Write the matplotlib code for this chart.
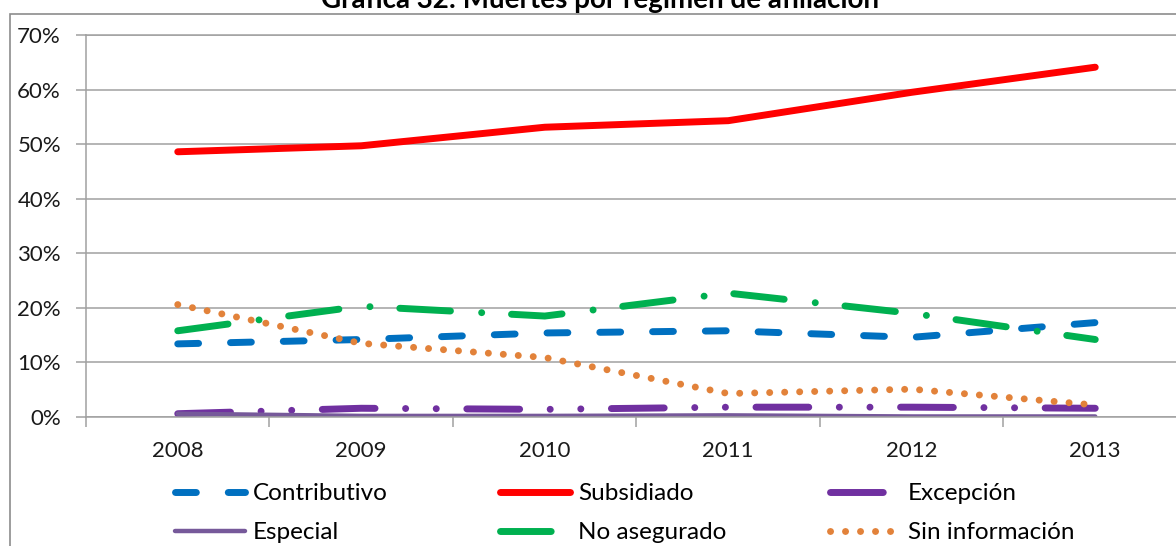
import matplotlib
matplotlib.use('Agg')
import matplotlib.pyplot as plt
from matplotlib.patches import Rectangle

years = ['2008', '2009', '2010', '2011', '2012', '2013']
contributivo = [13.4, 14.2, 15.4, 15.8, 14.6, 17.3]
subsidiado = [48.6, 49.7, 53.1, 54.3, 59.5, 64.1]
excepcion = [0.6, 1.6, 1.4, 1.8, 1.8, 1.6]
especial = [0.6, 0.2, 0.2, 0.3, 0.1, 0.1]
no_asegurado = [15.8, 20.3, 18.5, 22.7, 19.0, 14.2]
sin_informacion = [20.6, 13.5, 10.9, 4.3, 5.1, 2.2]

plt.rcParams['font.family'] = ['Lato', 'DejaVu Sans']
W, H = 1176, 546
fig = plt.figure(figsize=(W / 100, H / 100), dpi=100)
ax = fig.add_axes([86 / W, 129 / H, 1101 / W, 382 / H])

x = list(range(len(years)))
cap = dict(solid_capstyle='round', dash_capstyle='round')
l_con, = ax.plot(x, contributivo, color='#0070C0', lw=5, dashes=(3, 4.6), label='Contributivo', **cap)
l_sub, = ax.plot(x, subsidiado, color='#FF0000', lw=5, label='Subsidiado', **cap)
l_exc, = ax.plot(x, excepcion, color='#7030A0', lw=5, dashes=(7.6, 4.4, 0.01, 4.4, 0.01, 4.4),
                 label='Excepción', **cap)
l_esp, = ax.plot(x, especial, color='#76599A', lw=3.2, label='Especial', **cap)
l_noa, = ax.plot(x, no_asegurado, color='#00B050', lw=5, dashes=(7.3, 4.5, 0.01, 4.3),
                 label='No asegurado', **cap)
l_sin, = ax.plot(x, sin_informacion, color='#E2823A', lw=5, dashes=(0.01, 2.15),
                 label='Sin información', **cap)

ax.set_xlim(-0.5, 5.5)
ax.set_ylim(0, 70)
ax.set_yticks(range(0, 71, 10))
ax.set_yticklabels([f'{v}%' for v in range(0, 71, 10)])
ax.set_xticks([i - 0.5 for i in range(len(years) + 1)])
ax.set_xticklabels([])
ax.set_xticks(x, minor=True)
ax.set_xticklabels(years, minor=True)
ax.tick_params(axis='x', which='major', length=7, width=1.1, color='#A0A0A0', direction='out')
ax.tick_params(axis='x', which='minor', length=0, pad=17, labelsize=16, labelcolor='#1a1a1a')
ax.tick_params(axis='y', length=7, width=1.1, color='#A0A0A0', pad=11, labelsize=16,
               labelcolor='#1a1a1a')
ax.grid(axis='y', color='#A0A0A0', lw=1.1)
ax.set_axisbelow(True)
for side in ['left', 'bottom', 'top']:
    ax.spines[side].set_color('#A0A0A0')
    ax.spines[side].set_linewidth(1.1)
ax.spines['right'].set_visible(False)

fig.add_artist(Rectangle((10 / W, -0.1), 2, 1.1 - 14 / H, transform=fig.transFigure,
                         fill=False, edgecolor='#8C8C8C', lw=1.2))
fig.text(600 / W, 1 - 8 / H, 'Gráfica 32: Muertes por régimen de afiliación', ha='center',
         va='baseline', fontsize=20, fontweight='bold')

cols = [([l_con, l_esp], 175), ([l_sub, l_noa], 500), ([l_exc, l_sin], 830)]
for handles, xpos in cols:
    leg = fig.legend(handles=handles, loc='upper left', bbox_to_anchor=(xpos / W, 1 - 483 / H),
                     frameon=False, fontsize=17.5, handlelength=2.9, handletextpad=0.3,
                     borderpad=0, borderaxespad=0, labelspacing=0.75)

fig.savefig('out.png', dpi=100)
